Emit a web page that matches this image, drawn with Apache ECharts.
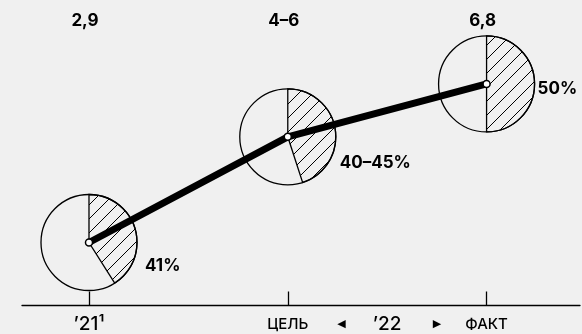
<!DOCTYPE html>
<html>
<head>
<meta charset="utf-8">
<script src="https://cdn.jsdelivr.net/npm/echarts@6/dist/echarts.min.js"></script>
<style>
  html, body { margin: 0; padding: 0; background: #f0f0f0; }
  #chart { width: 582px; height: 334px; }
</style>
</head>
<body>
<div id="chart"></div>
<script>
// data
const years = [0, 1, 2]                      // '21, '22 цель, '22 факт
const values = [2.9, 5.5, 6.8]               // plotted level
const topLabels = ['2,9', '4–6', '6,8']
const shares = [0.41, 0.45, 0.50]            // hatched slice
const shareLabels = ['41%', '40–45%', '50%']
const bottomLabelVals = [0, 1, 1.27, 1.5, 1.75, 2]
const bottomLabels = ['’21¹', 'ЦЕЛЬ', '◀', '’22', '▶', 'ФАКТ']

const FONT = 'Inter, "Noto Sans", sans-serif'
const BG = '#f0f0f0'

// hatch pattern "/"
function makeHatch() {
  const s = 14
  const c = document.createElement('canvas')
  c.width = s
  c.height = s
  const ctx = c.getContext('2d')
  ctx.strokeStyle = '#000'
  ctx.lineWidth = 1
  ctx.beginPath()
  ctx.moveTo(-1, s + 1); ctx.lineTo(s + 1, -1)
  ctx.moveTo(-2, 2); ctx.lineTo(2, -2)
  ctx.moveTo(s - 2, s + 2); ctx.lineTo(s + 2, s - 2)
  ctx.stroke()
  return c
}
const hatch = { image: makeHatch(), repeat: 'repeat' }

// where the % text sits relative to each circle centre
const pctOffset = [[56, 23], [52, 26], [51, 5]]

const chart = echarts.init(document.getElementById('chart'))

const option = {
  backgroundColor: BG,
  animation: false,
  grid: { left: 22, right: 2, top: 61.6, bottom: 27.8 },
  xAxis: [
    {
      type: 'value',
      min: -0.337,
      max: 2.47,
      position: 'bottom',
      splitLine: { show: false },
      axisLine: { lineStyle: { color: '#000', width: 1.3 } },
      axisTick: {
        customValues: years,
        inside: true,
        length: 14,
        lineStyle: { color: '#000', width: 1.3 },
      },
      axisLabel: {
        customValues: bottomLabelVals,
        margin: 8,
        color: '#000',
        formatter: (v) => {
          const i = bottomLabelVals.indexOf(v)
          const t = bottomLabels[i]
          if (t.startsWith('’')) return '{yr|' + t + '}'
          if (t === '◀' || t === '▶') return '{arr|' + t + '}'
          return '{sm|' + t + '}'
        },
        rich: {
          yr: { fontFamily: FONT, fontSize: 19, fontWeight: 500, color: '#000', lineHeight: 22 },
          sm: { fontFamily: FONT, fontSize: 15, fontWeight: 500, color: '#000', lineHeight: 22 },
          arr: { fontFamily: '"DejaVu Sans"', fontSize: 11, color: '#000', lineHeight: 22 },
        },
      },
    },
    {
      type: 'value',
      min: -0.337,
      max: 2.47,
      position: 'top',
      splitLine: { show: false },
      axisLine: { show: false },
      axisTick: { show: false },
      axisLabel: {
        customValues: years,
        margin: 32,
        padding: [0, 8, 0, 0],
        color: '#000',
        fontFamily: FONT,
        fontSize: 17,
        fontWeight: 700,
        formatter: (v) => topLabels[years.indexOf(v)],
      },
    },
  ],
  yAxis: { type: 'value', min: 1.35, max: 7.35, show: false },
  series: [
    {
      type: 'custom',
      z: 1,
      data: years.map((x, i) => [x, values[i], shares[i]]),
      renderItem: (params, api) => {
        const c = api.coord([api.value(0), api.value(1)])
        const r = 48
        const start = -Math.PI / 2
        const end = start + api.value(2) * Math.PI * 2
        const off = pctOffset[params.dataIndex]
        return {
          type: 'group',
          children: [
            {
              type: 'circle',
              shape: { cx: c[0], cy: c[1], r: r },
              style: { fill: BG, stroke: '#000', lineWidth: 1.3 },
            },
            {
              type: 'sector',
              shape: { cx: c[0], cy: c[1], r0: 0, r: r, startAngle: start, endAngle: end, clockwise: true },
              style: { fill: hatch, stroke: '#000', lineWidth: 1.3 },
            },
            {
              type: 'text',
              style: {
                text: shareLabels[params.dataIndex],
                x: c[0] + off[0],
                y: c[1] + off[1],
                align: 'left',
                verticalAlign: 'middle',
                fontFamily: FONT,
                fontSize: 17,
                fontWeight: 700,
                fill: '#000',
              },
            },
          ],
        }
      },
    },
    {
      type: 'line',
      z: 3,
      data: years.map((x, i) => [x, values[i]]),
      lineStyle: { color: '#000', width: 7 },
      symbol: 'circle',
      symbolSize: 7,
      itemStyle: { color: '#fff', borderColor: '#000', borderWidth: 1.5 },
    },
  ],
}

chart.setOption(option)
</script>
</body>
</html>
